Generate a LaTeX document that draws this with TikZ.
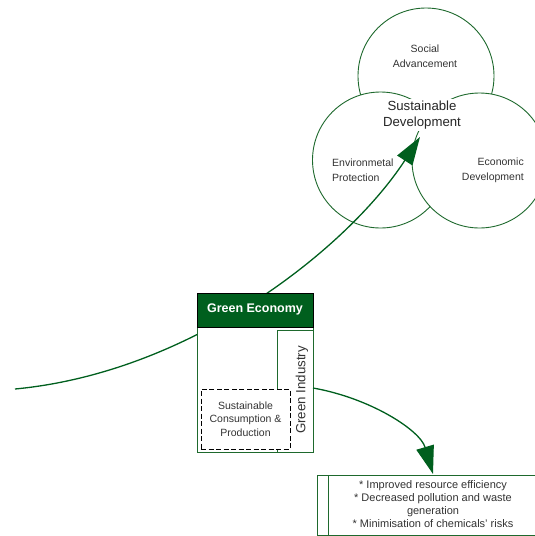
\documentclass[tikz,border=0pt]{standalone}
\usepackage{fontspec}
\setmainfont{Liberation Sans}
\usetikzlibrary{arrows.meta}
\usetikzlibrary{positioning}
\definecolor{ge green}{RGB}{0,95,30}
\definecolor{ge line}{RGB}{30,105,45}
\tikzset {
  % pillars of sustainable development
  ring/.style = {
    draw = ge line,
    fill = white,
    circle,
    line width = 0.9pt,
    inner sep = 0
  },
  ring label/.style = {
    text = black!80,
    font = \fontsize{10.5}{15}\selectfont,
    inner sep = 0
  },
  % centre of the three rings
  core/.style = {
    fill = white,
    text = black!85,
    align = center,
    font = \fontsize{13.2}{16}\selectfont,
    inner sep = 1.5pt
  }
}
\tikzset {
  % outer boxes
  frame/.style = {
    draw = ge line,
    fill = white,
    rectangle,
    line width = 0.9pt,
    inner sep = 0
  },
  % box title
  header/.style = {
    draw = black,
    fill = ge green,
    text = white,
    rectangle,
    font = \fontsize{12.5}{14}\selectfont\bfseries,
    inner sep = 0
  },
  % inner dashed box
  dbox/.style = {
    draw = black,
    fill = white,
    dash pattern = on 5pt off 2.5pt,
    line width = 0.9pt,
    align = center,
    text = black!80,
    font = \fontsize{10.5}{13.5}\selectfont,
    inner sep = 0
  },
  % green arrows
  flow/.style = {
    draw = ge green,
    line width = 1.3pt,
    -{Triangle[length=28pt,width=18pt]}
  }
}

\begin{document}
\begin{tikzpicture}[x=1pt, y=-1pt]
  \useasboundingbox (0,0) rectangle (535,536);

  % rings
  \node[ring, minimum size=136pt] (social) at (426,76) {};
  \node[ring, minimum size=136pt] (envir) at (380.5,160) {};
  \node[ring, minimum size=135pt] (econ) at (479.5,160.5) {};
  \node[ring label, align=center] (social text) at (425,56.5) {Social\\Advancement};
  \node[ring label, align=left, anchor=west] (envir text) at (332,170.5) {Environmetal\\Protection};
  \node[ring label, align=right, anchor=east] (econ text) at (524,170.5) {Economic\\Development};
  \node[core] (sd) at (422,115) {Sustainable\\Development};

  % arrow to sustainable development
  \coordinate (flow start) at (15,389);
  \coordinate (sd tip) at (420,137);
  \draw[flow] (flow start) .. controls (195,372) and (350,245) .. (sd tip);

  % green economy
  \node[frame, minimum width=116pt, minimum height=159pt] (ge) at (255,372.5) {};
  \node[header, minimum width=116pt, minimum height=34pt, anchor=north] (ge head) at (ge.north) {Green Economy};
  \node[frame, minimum width=36pt, minimum height=122pt, anchor=south east] (gi) at (ge.south east) {};
  \node[ring label, rotate=90, font=\fontsize{13.3}{15}\selectfont] (gi text) at (302,390) {Green Industry};
  \node[dbox, minimum width=89pt, minimum height=60pt] (scp) at (245.5,419) {Sustainable\\Consumption \&\\Production};

  % effects of green industry
  \node[frame, minimum width=228pt, minimum height=60pt] (effects) at (431,505) {};
  \node[frame, minimum width=11pt, minimum height=60pt, anchor=north west] (effects tab) at (effects.north west) {};
  \node[ring label, align=center, font=\fontsize{11}{13}\selectfont] (effects text) at (433,504.5)
    {* Improved resource efficiency\\* Decreased pollution and waste\\generation\\* Minimisation of chemicals' risks};

  \coordinate (gi out) at (313,388);
  \coordinate (effects tip) at (433,474);
  \draw[flow] (gi out) .. controls (370,398) and (420,430) .. (effects tip);
\end{tikzpicture}
\end{document}
